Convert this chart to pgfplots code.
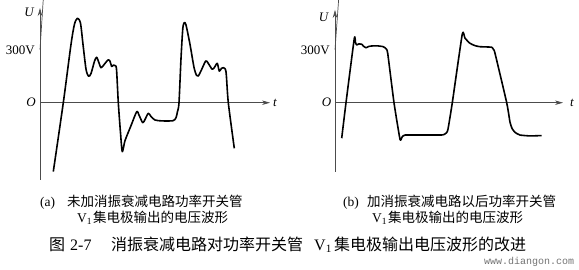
\documentclass[border=0pt]{standalone}
\usepackage{pgfplots}
\pgfplotsset{compat=1.18}
\usetikzlibrary{arrows.meta}
\usepackage{fontspec}
\setmainfont{Liberation Serif}
\setmonofont{Liberation Mono}
\newfontfamily\cjk{Noto Sans CJK SC}

% common look of the two waveform panels: 1 pt per time unit, origin placed with anchor=origin
\pgfplotsset{
  wave/.style={
    anchor=origin, x=1pt, y=0.17667pt,
    clip=false, enlargelimits=false,
    axis lines=none,
  },
}
\tikzset{
  trace/.style={black, line width=1.6pt, smooth, tension=0.45, line join=round},
  axisline/.style={draw=black!70, line width=0.7pt, -{Stealth[length=8pt,width=4.5pt]}},
  lab/.style={inner sep=0pt, font=\fontsize{13}{13}\selectfont},
  labi/.style={inner sep=0pt, font=\fontsize{13}{13}\selectfont\itshape},
}

\begin{document}
\begin{tikzpicture}
\path (0,0) rectangle (579pt,-270pt);

% (a) collector voltage without the snubber network
\begin{axis}[wave, at={(40pt,-102.7pt)}, xmin=0, xmax=230, ymin=-437, ymax=536]
\draw[axisline] (axis cs:0,-437) -- (axis cs:0,536);
\draw[axisline] (axis cs:0,0) -- (axis cs:230,0);
\addplot[trace] coordinates {
 (13.3,-390) (23.3,0) (31,330) (34.5,445) (37.5,478) (40.5,450) (43,330)
 (46,190) (48.5,150) (51,165) (54.5,235) (56.7,257) (59,225) (61,198)
 (64,215) (68,242) (70,235) (71.7,205) (73.5,213) (75,210) (76.5,190)
 (78.3,0) (80.5,-170) (82.3,-277) (85,-215) (91,-130) (96.7,-51) (99,-70)
 (102.7,-113) (105,-95) (108.3,-60) (111,-78) (115,-98) (122,-103)
 (133,-102) (136,-85) (137.5,-50) (139,0) (141,250) (142.8,420) (144.3,453)
 (146,440) (150,330) (154,200) (156.5,155) (158.3,151) (161,180)
 (165.7,236) (168,225) (172.3,189) (175,205) (177.3,223) (179.3,179)
 (181.5,195) (183.3,198) (186,175) (188.3,0) (194.3,-258)
};
\draw[black!70, line width=0.7pt] (axis cs:0,300) -- ++(5pt,0);
\node[lab, anchor=east] at (axis cs:-5,298) {300V};
\node[labi] at (axis cs:-11,510) {U};
\node[labi] at (axis cs:-9,0) {O};
\node[labi] at (axis cs:235,0) {t};
\end{axis}

% (b) collector voltage with the snubber network
\begin{axis}[wave, at={(335pt,-102.7pt)}, xmin=0, xmax=228, ymin=-390, ymax=525]
\draw[axisline] (axis cs:0,-390) -- (axis cs:0,525);
\draw[axisline] (axis cs:0,0) -- (axis cs:228,0);
\addplot[trace, tension=0.3] coordinates {
 (6.7,-201) (11,0) (19.3,364) (20.5,340) (21.7,327) (24,333) (26.7,331)
 (28.5,320) (31,311) (33.5,318) (36.7,321) (42,322) (48.3,317) (51,305)
 (52.7,280) (59,0) (65,-207) (67,-195) (70,-183) (90,-183) (106,-183)
 (109,-180) (111.5,-170) (113,-150) (117.3,0) (127.3,389) (130,365)
 (135,336) (140,323) (145,317) (156.7,314) (158.5,300) (160,280)
 (171.7,0) (175,-110) (177,-145) (180,-168) (185,-183) (195,-188) (206.7,-186)
};
\draw[black!70, line width=0.7pt] (axis cs:0,300) -- ++(5pt,0);
\node[lab, anchor=east] at (axis cs:-5,298) {300V};
\node[labi] at (axis cs:-11.5,482) {U};
\node[labi] at (axis cs:-8.5,0) {O};
\node[labi] at (axis cs:237,0) {t};
\end{axis}

% sub-captions
\begin{scope}[every node/.style={anchor=base west, inner sep=0pt, font=\fontsize{13.5}{13.5}\selectfont}]
\node at (40pt,-206pt) {(a)};
\node at (67pt,-206pt) {\cjk 未加消振衰减电路功率开关管};
\node at (77pt,-222pt) {V\textsubscript{1}};
\node at (93pt,-222pt) {\cjk 集电极输出的电压波形};
\node at (343pt,-206pt) {(b)};
\node at (367pt,-206pt) {\cjk 加消振衰减电路以后功率开关管};
\node at (372pt,-222pt) {V\textsubscript{1}};
\node at (388pt,-222pt) {\cjk 集电极输出的电压波形};
\end{scope}

% figure caption
\begin{scope}[every node/.style={anchor=base west, inner sep=0pt, font=\fontsize{16}{16}\selectfont}]
\node at (49pt,-250pt) {\cjk 图};
\node at (70pt,-250pt) {2-7};
\node at (111pt,-250pt) {\cjk 消振衰减电路对功率开关管};
\node at (314pt,-250pt) {V\textsubscript{1}};
\node at (334pt,-250pt) {\cjk 集电极输出电压波形的改进};
\end{scope}
\node[anchor=base west, inner sep=0pt, text=black!55, font=\ttfamily\fontsize{10}{10}\selectfont] at (484pt,-264pt) {www.diangon.com};

\pgfresetboundingbox
\path (0,0) rectangle (579pt,-270pt);
\end{tikzpicture}
\end{document}
